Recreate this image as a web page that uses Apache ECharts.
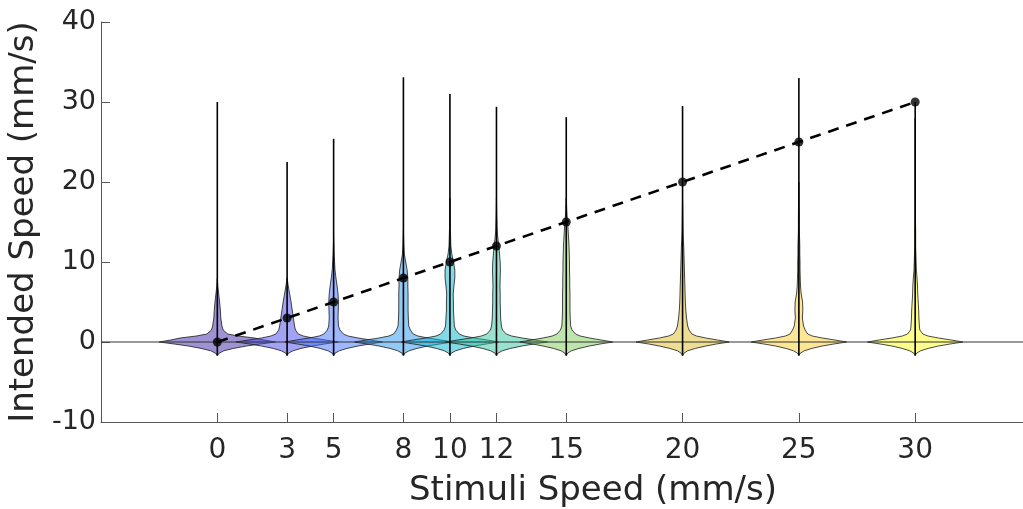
<!DOCTYPE html>
<html>
<head>
<meta charset="utf-8">
<script src="https://cdn.jsdelivr.net/npm/echarts@6/dist/echarts.min.js"></script>
<style>
  html, body { margin: 0; padding: 0; background: #fff; }
  #chart { width: 1023px; height: 509px; }
</style>
</head>
<body>
<div id="chart"></div>
<script>
// stimulus speeds (x positions of the violins)
const STIMULI = [0, 3, 5, 8, 10, 12, 15, 20, 25, 30];
// ideal response: intended speed = stimulus speed
const IDEAL = [0, 3, 5, 8, 10, 12, 15, 20, 25, 30];
// whisker extents (min / max of intended speed)
const WHISKER_MIN = [-1.7, -1.7, -1.7, -1.7, -1.7, -1.7, -1.7, -1.7, -1.7, -1.7];
const WHISKER_MAX = [30, 22.5, 25.4, 33.1, 31, 29.4, 28.1, 29.5, 33, 30];

// y levels where the violin half-widths are read
const LEVELS = [-1.7, -1.4, -1.1, -0.8, -0.5, -0.25, 0, 0.25, 0.5, 0.75, 1, 1.5,
  2, 3, 4, 5, 6, 7, 8, 9, 10, 11, 12, 13, 14, 16, 18, 20, 24, 28];

// violin half-widths (in mm/s of the x axis), one row per stimulus
const HALF_WIDTHS = [
  [0, 0.08, 0.28, 0.7, 1.25, 1.85, 2.5, 2.0, 1.6, 0.9, 0.45, 0.25,
   0.2, 0.15, 0.13, 0.1, 0.06, 0.02, 0, 0, 0, 0, 0, 0, 0, 0, 0, 0, 0, 0],
  [0, 0.06, 0.25, 0.6, 1.1, 1.6, 2.2, 1.65, 1.1, 0.7, 0.48, 0.36,
   0.32, 0.27, 0.22, 0.17, 0.11, 0.05, 0, 0, 0, 0, 0, 0, 0, 0, 0, 0, 0, 0],
  [0, 0.06, 0.24, 0.58, 1.05, 1.55, 2.1, 1.6, 1.05, 0.62, 0.42, 0.27,
   0.21, 0.19, 0.2, 0.21, 0.19, 0.15, 0.1, 0.06, 0.04, 0.02, 0.01, 0, 0, 0, 0, 0, 0, 0],
  [0, 0.06, 0.24, 0.58, 1.05, 1.55, 2.1, 1.6, 1.05, 0.62, 0.42, 0.3,
   0.23, 0.21, 0.2, 0.2, 0.2, 0.19, 0.19, 0.16, 0.1, 0.04, 0.02, 0.01, 0, 0, 0, 0, 0, 0],
  [0, 0.06, 0.24, 0.58, 1.05, 1.55, 2.1, 1.6, 1.05, 0.6, 0.4, 0.25,
   0.19, 0.17, 0.15, 0.15, 0.14, 0.17, 0.21, 0.21, 0.15, 0.08, 0.04, 0.03, 0.02, 0.01, 0, 0, 0, 0],
  [0, 0.06, 0.25, 0.6, 1.1, 1.6, 2.2, 1.65, 1.1, 0.65, 0.42, 0.26,
   0.21, 0.18, 0.17, 0.16, 0.16, 0.15, 0.16, 0.17, 0.16, 0.13, 0.1, 0.06, 0.03, 0.01, 0, 0, 0, 0],
  [0, 0.06, 0.22, 0.55, 1.0, 1.45, 2.0, 1.5, 1.0, 0.6, 0.4, 0.25,
   0.19, 0.17, 0.16, 0.16, 0.16, 0.15, 0.15, 0.14, 0.14, 0.13, 0.12, 0.1, 0.08, 0.03, 0, 0, 0, 0],
  [0, 0.06, 0.22, 0.55, 1.0, 1.45, 2.0, 1.5, 1.0, 0.6, 0.4, 0.28,
   0.22, 0.17, 0.14, 0.12, 0.11, 0.1, 0.09, 0.08, 0.07, 0.06, 0.05, 0.03, 0.02, 0.01, 0, 0, 0, 0],
  [0, 0.06, 0.23, 0.56, 1.0, 1.5, 2.05, 1.55, 1.0, 0.58, 0.38, 0.27,
   0.2, 0.15, 0.17, 0.16, 0.1, 0.07, 0.06, 0.05, 0.05, 0.04, 0.04, 0.03, 0.02, 0.02, 0.01, 0, 0, 0],
  [0, 0.06, 0.23, 0.56, 1.0, 1.5, 2.05, 1.55, 1.0, 0.55, 0.33, 0.2,
   0.18, 0.16, 0.15, 0.13, 0.11, 0.1, 0.08, 0.05, 0.04, 0.03, 0.02, 0.02, 0.02, 0.01, 0.01, 0.01, 0.01, 0]
];

// parula(10) colours, drawn half transparent
const COLORS = [
  [62, 38, 168], [71, 71, 235], [62, 111, 255], [39, 150, 235], [8, 181, 208],
  [49, 198, 159], [129, 204, 89], [220, 189, 41], [252, 207, 48], [249, 251, 21]
];

const X_MIN = -5;
const X_MAX = 37.3; // axes run past the right edge of the picture

const chart = echarts.init(document.getElementById('chart'));
const FONT = 'DejaVu Sans';
const TXT = '#262626';

const option = {
  animation: false,
  grid: { left: 101, right: -62, top: 22, bottom: 87, containLabel: false, outerBoundsMode: 'none' },
  xAxis: {
    type: 'value',
    min: X_MIN,
    max: X_MAX,
    name: 'Stimuli Speed (mm/s)',
    nameLocation: 'middle',
    nameGap: 52,
    nameTextStyle: { fontFamily: FONT, fontSize: 34, color: TXT },
    axisLine: { show: true, onZero: false, lineStyle: { color: '#555', width: 1 } },
    axisTick: { show: true, inside: true, length: 9, customValues: STIMULI, lineStyle: { color: '#555' } },
    axisLabel: { customValues: STIMULI, fontFamily: FONT, fontSize: 28, color: TXT, margin: 15 },
    splitLine: { show: false }
  },
  yAxis: {
    type: 'value',
    min: -10,
    max: 40,
    interval: 10,
    name: 'Intended Speed (mm/s)',
    nameLocation: 'middle',
    nameGap: 55,
    nameTextStyle: { fontFamily: FONT, fontSize: 34, color: TXT },
    axisLine: { show: true, onZero: false, lineStyle: { color: '#555', width: 1 } },
    axisTick: { show: true, inside: true, length: 9, lineStyle: { color: '#555' } },
    axisLabel: { fontFamily: FONT, fontSize: 27, color: TXT, margin: 5 },
    splitLine: { show: false }
  },
  series: [
    {
      // violins
      type: 'custom',
      z: 2,
      clip: true,
      encode: { x: 0, y: 1 },
      data: STIMULI.map((x, i) => [x, i]),
      renderItem(params, api) {
        const x = api.value(0);
        const i = api.value(1);
        const hw = HALF_WIDTHS[i];
        // stop at the first zero width above the body
        let top = LEVELS.length - 1;
        for (let k = 7; k < LEVELS.length; k++) {
          if (hw[k] === 0) { top = k; break; }
        }
        const pts = [];
        for (let k = 0; k <= top; k++) pts.push(api.coord([x + hw[k], LEVELS[k]]));
        for (let k = top; k >= 0; k--) pts.push(api.coord([x - hw[k], LEVELS[k]]));
        const c = COLORS[i];
        return {
          type: 'polygon',
          shape: { points: pts },
          style: { fill: `rgba(${c[0]},${c[1]},${c[2]},0.5)`, stroke: '#1a1a1a', lineWidth: 0.8 }
        };
      }
    },
    {
      // zero line
      type: 'line',
      z: 3,
      symbol: 'none',
      silent: true,
      data: [[X_MIN, 0], [X_MAX, 0]],
      lineStyle: { color: '#333', width: 1 }
    },
    {
      // whiskers
      type: 'custom',
      z: 4,
      encode: { x: 0, y: [1, 2] },
      data: STIMULI.map((x, i) => [x, WHISKER_MIN[i], WHISKER_MAX[i]]),
      renderItem(params, api) {
        const p1 = api.coord([api.value(0), api.value(1)]);
        const p2 = api.coord([api.value(0), api.value(2)]);
        return {
          type: 'line',
          shape: { x1: p1[0], y1: p1[1], x2: p2[0], y2: p2[1] },
          style: { stroke: '#000', lineWidth: 1.6 }
        };
      }
    },
    {
      // ideal line
      type: 'line',
      z: 5,
      symbol: 'none',
      data: STIMULI.map((x, i) => [x, IDEAL[i]]),
      lineStyle: { color: '#000', width: 2.6, type: [11, 8] }
    },
    {
      type: 'scatter',
      z: 6,
      symbol: 'circle',
      symbolSize: 9,
      data: STIMULI.map((x, i) => [x, IDEAL[i]]),
      itemStyle: { color: '#000' }
    }
  ]
};
chart.setOption(option);
</script>
</body>
</html>
